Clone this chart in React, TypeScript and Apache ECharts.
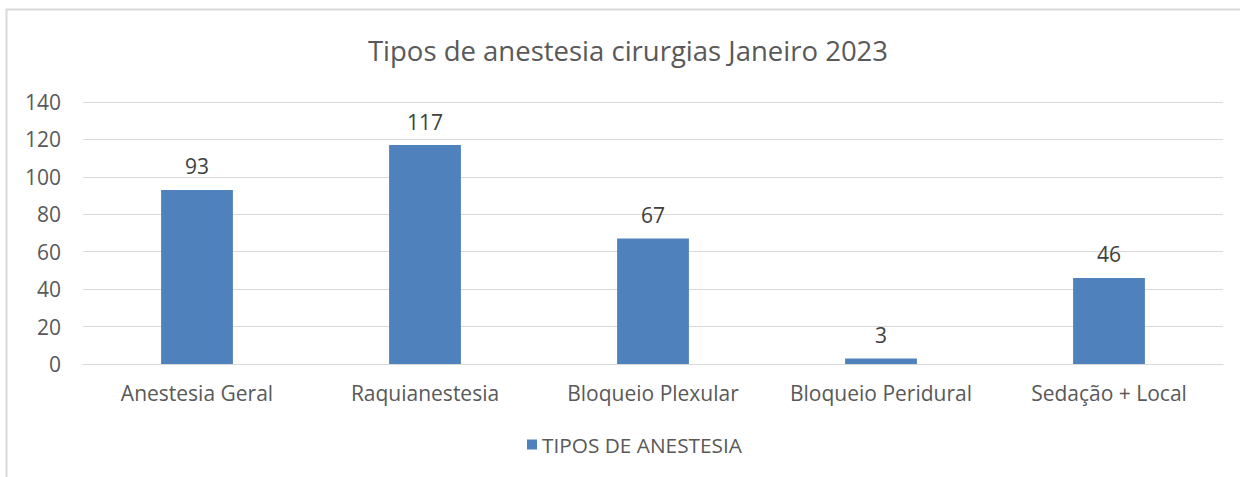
import React, { useEffect, useRef } from "react";
import * as echarts from "echarts";

const categories = ["Anestesia Geral", "Raquianestesia", "Bloqueio Plexular", "Bloqueio Peridural", "Sedação + Local"];
const values = [93, 117, 67, 3, 46];
const seriesName = "TIPOS DE ANESTESIA";
const titleText = "Tipos de anestesia cirurgias Janeiro 2023";
const yMin = 0;
const yMax = 140;
const yStep = 20;

const FONT = "'Open Sans', Lato, sans-serif";

export default function App() {
  const ref = useRef<HTMLDivElement>(null);
  useEffect(() => {
    document.body.style.margin = "0";
    const chart = echarts.init(ref.current!, null, { renderer: "svg" });
    chart.setOption({
      animation: false,
      backgroundColor: "#ffffff",
      textStyle: { fontFamily: FONT },
      graphic: [
        {
          type: "rect",
          shape: { x: 6.5, y: 9.5, width: 1400, height: 600 },
          style: { fill: "none", stroke: "#d9d9d9", lineWidth: 2 },
          silent: true,
          z: -10,
        },
        {
          type: "text",
          x: 628,
          y: 50,
          style: {
            text: titleText,
            fill: "#595959",
            font: `27.5px ${FONT}`,
            textAlign: "center",
            textVerticalAlign: "middle",
          },
        },
      ],
      legend: {
        bottom: 17,
        left: 522,
        itemWidth: 10,
        itemHeight: 10,
        itemGap: 10,
        icon: "rect",
        textStyle: { color: "#595959", fontSize: 20.8, fontFamily: FONT },
        data: [seriesName],
      },
      grid: { left: 83, right: 17, top: 102, bottom: 113, containLabel: false },
      xAxis: {
        type: "category",
        data: categories,
        axisLine: { show: true, lineStyle: { color: "#d9d9d9", width: 1 } },
        axisTick: { show: false },
        axisLabel: {
          color: "#595959",
          fontSize: 21,
          margin: 18,
          fontFamily: FONT,
          interval: 0,
          hideOverlap: false,
        },
      },
      yAxis: {
        type: "value",
        min: yMin,
        max: yMax,
        interval: yStep,
        axisLine: { show: false },
        axisTick: { show: false },
        splitLine: { lineStyle: { color: "#d9d9d9", width: 1 } },
        axisLabel: { color: "#595959", fontSize: 21, margin: 22, fontFamily: FONT },
      },
      series: [
        {
          name: seriesName,
          type: "bar",
          data: values,
          barWidth: "31.5%",
          itemStyle: { color: "#4f81bd" },
          label: {
            show: true,
            position: "top",
            distance: 13,
            color: "#404040",
            fontSize: 21,
            fontFamily: FONT,
          },
        },
      ],
    });
    return () => chart.dispose();
  }, []);
  return <div ref={ref} style={{ width: 1240, height: 477 }} />;
}
